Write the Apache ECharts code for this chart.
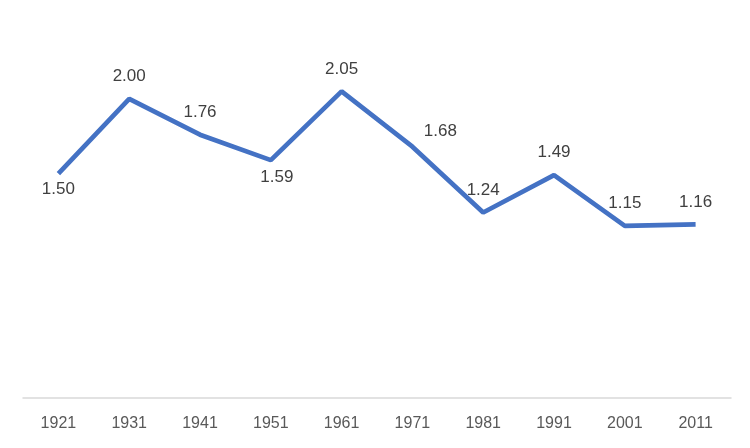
<!DOCTYPE html>
<html>
<head>
<meta charset="utf-8">
<script src="https://cdn.jsdelivr.net/npm/echarts@6/dist/echarts.min.js"></script>
<style>html,body{margin:0;padding:0;background:#fff;}#c{width:750px;height:448px;}</style>
</head>
<body>
<div id="c"></div>
<script>
const years = ['1921','1931','1941','1951','1961','1971','1981','1991','2001','2011'];
const values = [1.50, 2.00, 1.76, 1.59, 2.05, 1.68, 1.24, 1.49, 1.15, 1.16];

// label placement tweaks by index (style only)
const labelTweaks = {
  0: {position: 'bottom', distance: 7},
  3: {position: 'bottom', distance: 9, offset: [6, 0]},
  5: {position: 'top', distance: 14, offset: [28, 7]}
};

const chart = echarts.init(document.getElementById('c'), null, {renderer: 'canvas'});
chart.setOption({
  animation: false,
  backgroundColor: '#ffffff',
  grid: {left: 23, right: 19, top: 24, bottom: 50},
  xAxis: {
    type: 'category',
    data: years,
    boundaryGap: true,
    axisLine: {lineStyle: {color: '#d9d9d9', width: 1.5}},
    axisTick: {show: false},
    axisLabel: {color: '#595959', fontSize: 16, fontFamily: 'Liberation Sans', margin: 18}
  },
  yAxis: {
    type: 'value', min: 0, max: 2.5, show: false,
    splitLine: {show: false}
  },
  series: [{
    type: 'line',
    data: values.map((v, i) => labelTweaks[i] ? {value: v, label: labelTweaks[i]} : v),
    showSymbol: true,
    symbol: 'circle',
    symbolSize: 0,
    lineStyle: {color: '#4472C4', width: 4.7},
    itemStyle: {color: '#4472C4'},
    emphasis: {disabled: true},
    label: {
      show: true,
      position: 'top',
      distance: 14,
      color: '#404040',
      fontSize: 17,
      fontFamily: 'Liberation Sans',
      formatter: p => p.value.toFixed(2)
    }
  }]
});
</script>
</body>
</html>
